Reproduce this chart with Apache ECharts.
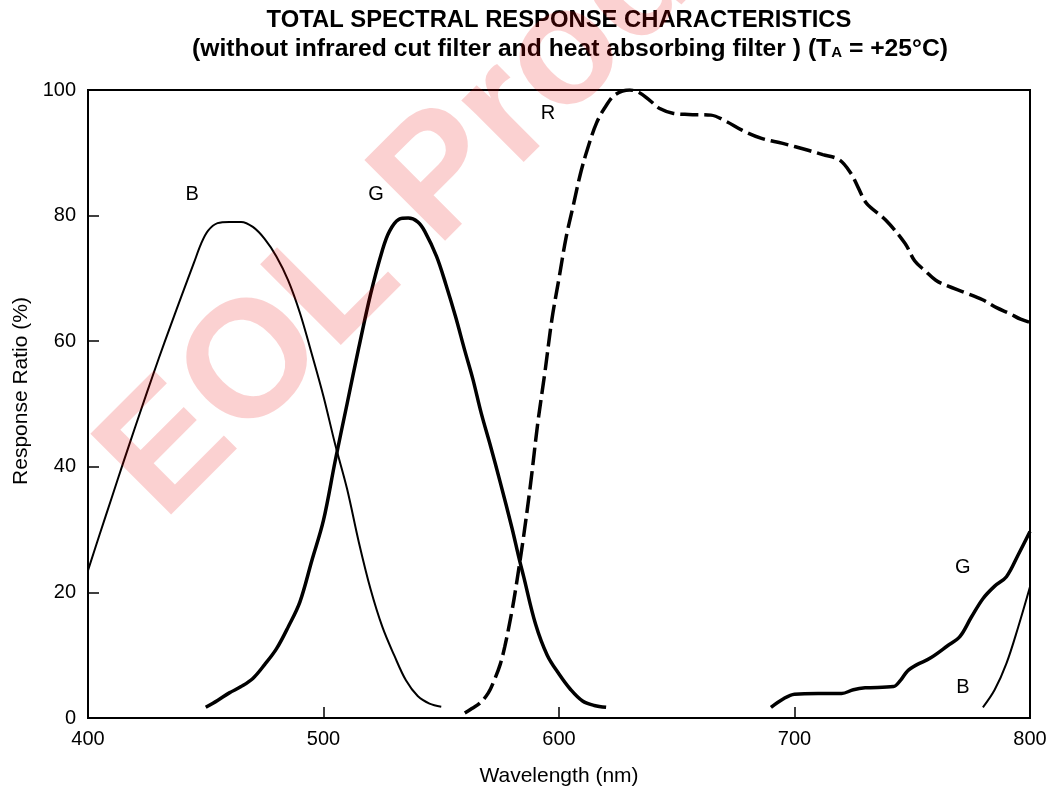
<!DOCTYPE html>
<html>
<head>
<meta charset="utf-8">
<script src="https://cdn.jsdelivr.net/npm/echarts/dist/echarts.min.js"></script>
<style>html,body{margin:0;padding:0;background:#fff}#c{width:1054px;height:792px}</style>
</head>
<body>
<div id="c"></div>
<script>
const FONT = '"Liberation Sans", Arial, Helvetica, sans-serif';

const titleLine1 = 'TOTAL SPECTRAL RESPONSE CHARACTERISTICS';
const titleLine2a = '(without infrared cut filter and heat absorbing filter ) (T';
const titleLine2sub = 'A';
const titleLine2b = ' = +25°C)';
const xAxisName = 'Wavelength (nm)';
const yAxisName = 'Response Ratio (%)';
const watermarkText = 'EOL Product';

const xTicks = [400, 500, 600, 700, 800];
const yTicks = [0, 20, 40, 60, 80, 100];

// Blue channel, main band [wavelength nm, response %]
const bluePeak = [
  [400,23.5],[405,29.3],[410,35],[415,40.7],[420,46.3],[425,51.8],[430,57.2],[435,62.4],
  [440,67.5],[445,72.5],[448,75.5],[451,77.6],[455,78.8],[460,79],[465,79],[470,78.2],
  [475,76.3],[480,73.5],[485,69.7],[490,64.5],[495,58],[500,51.2],[505,43.5],[510,36.5],
  [515,28],[520,20.5],[525,14.5],[530,10],[535,6],[540,3.5],[545,2.3],[550,1.8]
];
// Green channel, main band
const greenPeak = [
  [450,1.7],[455,2.8],[460,4],[465,5],[470,6.3],[475,8.5],[480,11],[485,14.5],
  [490,18.5],[495,25],[500,31.5],[505,41],[510,50],[515,59],[520,67.5],[525,74.5],
  [528,77.5],[532,79.4],[536,79.6],[540,79],[543,77.5],[548,73.5],[552,69],[556,64],
  [560,58.5],[563.4,54],[567,48.5],[571,43.2],[575,37.6],[580,30.3],[583,25.5],
  [585,22.5],[590,15],[595,10],[600,7],[605,4.5],[610,2.7],[615,2],[620,1.7]
];
// Red channel
const redBand = [
  [560,0.8],[563,1.5],[566.5,2.4],[570,4],[572.5,6],[575,8.5],[577,11.4],[580,17],
  [582,21.5],[585,29],[588,37.5],[591,47],[594,55],[597,63.5],[600,70],[603,76.5],
  [606,81.5],[609,86.5],[612,90.5],[616,94.8],[620,97.5],[624,99.3],[630,100],
  [634,99.6],[638.4,98.4],[643,97],[648.3,96.3],[655,96.1],[664.5,96],[671,95],
  [677.7,93.6],[686,92.3],[695,91.5],[705.8,90.4],[712,89.7],[719,88.9],[724,86.7],
  [727,84.5],[730.5,82],[738.7,79.3],[746.9,75.6],[751,72.8],[755.2,71.3],[760,69.7],
  [765,68.8],[772,67.8],[779.9,66.6],[786,65.3],[791.4,64.4],[796,63.5],[800,63]
];
// Green channel, infrared tail
const greenTail = [
  [690,1.7],[695,3],[700,3.8],[710,3.9],[720,3.9],[725,4.5],[730,4.8],[742,5],
  [745,6],[748,7.5],[752,8.5],[757.5,9.5],[765,11.5],[770.3,13],[775,16],[780,19],
  [785,21],[790,22.5],[795,26],[800,29.7]
];
// Blue channel, infrared tail
const blueTail = [
  [780,1.7],[785,4.5],[790,8.7],[795,14.5],[800,20.9]
];

// curve labels [wavelength, response, text]
const curveLabels = [
  [444.2,83.3,'B'],[522.3,83.3,'G'],[595.3,96.3,'R'],[771.5,23.9,'G'],[771.5,4.8,'B']
];

const chart = echarts.init(document.getElementById('c'), null, {renderer:'canvas'});

function lineSeries(data, width, dashed) {
  return {
    type: 'line', data: data, showSymbol: false, smooth: 0.35, silent: true,
    lineStyle: { color: '#000', width: width, type: dashed ? [18, 6] : 'solid', cap: 'butt' },
    z: 3
  };
}

chart.setOption({
  animation: false,
  backgroundColor: '#fff',
  textStyle: { fontFamily: FONT },
  title: [
    { text: titleLine1, left: 559, top: 8, textAlign: 'center', padding: 0,
      textStyle: { fontSize: 23.8, fontWeight: 'bold', color: '#000', fontFamily: FONT } },
    { text: '{n|' + titleLine2a + '}{s|' + titleLine2sub + '}{n|' + titleLine2b + '}',
      left: 570, top: 36.5, textAlign: 'center', padding: 0,
      textStyle: { fontFamily: FONT, color: '#000',
        rich: {
          n: { fontSize: 24.7, fontWeight: 'bold', color: '#000', fontFamily: FONT, verticalAlign: 'bottom' },
          s: { fontSize: 15, fontWeight: 'bold', color: '#000', fontFamily: FONT, verticalAlign: 'bottom', padding: [0,0,1,0] }
        } } }
  ],
  grid: { left: 88, right: 24, top: 90, bottom: 74, show: true, borderColor: '#000', borderWidth: 2, backgroundColor: 'transparent' },
  xAxis: {
    type: 'value', min: xTicks[0], max: xTicks[xTicks.length-1], interval: 100,
    name: xAxisName, nameLocation: 'middle', nameGap: 48,
    nameTextStyle: { fontSize: 21, color: '#000', fontFamily: FONT },
    axisLine: { show: true, lineStyle: { color: '#000', width: 2 } },
    axisTick: { show: true, inside: true, length: 11, lineStyle: { color: '#000', width: 1.5 } },
    axisLabel: { fontSize: 20, color: '#000', margin: 11, fontFamily: FONT },
    splitLine: { show: false }
  },
  yAxis: {
    type: 'value', min: yTicks[0], max: yTicks[yTicks.length-1], interval: 20,
    name: yAxisName, nameLocation: 'middle', nameGap: 52,
    nameTextStyle: { fontSize: 21, color: '#000', fontFamily: FONT, padding: [0,0,0,26] },
    axisLine: { show: true, lineStyle: { color: '#000', width: 2 } },
    axisTick: { show: true, inside: true, length: 11, lineStyle: { color: '#000', width: 1.5 } },
    axisLabel: { fontSize: 20, color: '#000', margin: 12, fontFamily: FONT },
    splitLine: { show: false }
  },
  series: [
    lineSeries(bluePeak, 2, false),
    lineSeries(greenPeak, 3.5, false),
    lineSeries(redBand, 3.5, true),
    lineSeries(greenTail, 3.5, false),
    lineSeries(blueTail, 2, false),
    {
      type: 'scatter', data: curveLabels, symbolSize: 0, silent: true, z: 4,
      itemStyle: { opacity: 1, color: '#000' },
      label: { show: true, position: 'inside', formatter: p => p.data[2],
        fontSize: 20, color: '#000', opacity: 1, fontFamily: FONT }
    }
  ],
  graphic: [
    { type: 'text', x: 131, y: 490, rotation: Math.PI / 4, z: 100, silent: true,
      style: { text: watermarkText, fontSize: 166, fontWeight: 'bold', fontFamily: FONT,
        fill: 'rgba(235,0,0,0.18)', align: 'left', verticalAlign: 'middle',
        textAlign: 'left', textVerticalAlign: 'middle' } }
  ]
});
</script>
</body>
</html>
